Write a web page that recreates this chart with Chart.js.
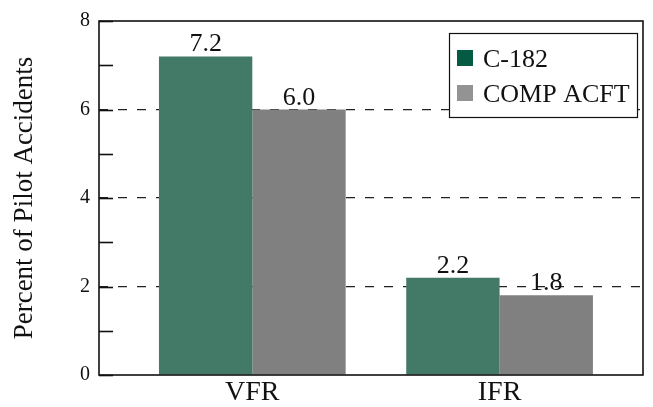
<!DOCTYPE html>
<html lang="en">
<head>
  <meta charset="UTF-8" />
  <title>Percent of Pilot Accidents</title>
  <script src="https://cdn.jsdelivr.net/npm/chart.js"></script>
  <style>
    body { margin: 0; background: #fff; }
    .wrap { width: 653px; height: 407px; position: relative; }
  </style>
</head>
<body>
  <div class="wrap"><canvas id="chart"></canvas></div>
  <script>
    // Data
    const categories = ['VFR', 'IFR'];
    const seriesNames = ['C-182', 'COMP ACFT'];
    const c182Values = [7.2, 2.2];
    const compValues = [6.0, 1.8];
    const yLabelTicks = [0, 2, 4, 6, 8];
    const gridTicks = [2, 4, 6];

    const barColors = ['#427a67', '#808080'];
    const legendColors = ['#045a43', '#939393'];
    const FONT = '"Liberation Serif", "Times New Roman", serif';

    // frame, inner tick marks, value labels and boxed legend
    const decorations = {
      id: 'decorations',
      afterDatasetsDraw(chart) {
        const { ctx, chartArea: a } = chart;
        const y = chart.scales.y;
        ctx.save();
        ctx.strokeStyle = '#111';
        ctx.lineWidth = 1.6;
        ctx.strokeRect(a.left, a.top, a.right - a.left, a.bottom - a.top);
        for (let v = y.min; v <= y.max; v++) {
          const py = Math.round(y.getPixelForValue(v)) + 0.5;
          ctx.beginPath();
          ctx.moveTo(a.left, py);
          ctx.lineTo(a.left + 14, py);
          ctx.stroke();
        }

        // value labels above bars
        ctx.fillStyle = '#111';
        ctx.font = '26px ' + FONT;
        ctx.textAlign = 'center';
        ctx.textBaseline = 'alphabetic';
        chart.data.datasets.forEach((ds, i) => {
          chart.getDatasetMeta(i).data.forEach((bar, j) => {
            ctx.fillText(ds.data[j].toFixed(1), bar.x, bar.y - 5);
          });
        });

        // legend box
        const lx = 449, ly = 33, lw = 188, lh = 84;
        ctx.fillStyle = '#fff';
        ctx.fillRect(lx, ly, lw, lh);
        ctx.lineWidth = 1.2;
        ctx.strokeRect(lx + 0.5, ly + 0.5, lw, lh);
        ctx.textAlign = 'left';
        seriesNames.forEach((name, i) => {
          const cy = ly + 25 + i * 35;
          ctx.fillStyle = legendColors[i];
          ctx.fillRect(lx + 8, cy - 8, 16, 16);
          ctx.fillStyle = '#111';
          ctx.fillText(name, lx + 34, cy + 9);
        });
        ctx.restore();
      }
    };

    new Chart(document.getElementById('chart').getContext('2d'), {
      type: 'bar',
      data: {
        labels: categories,
        datasets: [
          { label: seriesNames[0], data: c182Values, backgroundColor: barColors[0] },
          { label: seriesNames[1], data: compValues, backgroundColor: barColors[1] }
        ]
      },
      options: {
        responsive: true,
        maintainAspectRatio: false,
        animation: false,
        events: [],
        categoryPercentage: 0.755,
        barPercentage: 1.0,
        layout: { padding: { top: 17, right: 10, left: 0, bottom: 0 } },
        scales: {
          x: {
            afterBuildTicks: scale => {
              // groups sit a little right of the category centres
              scale._startValue = -0.62;
              scale._valueRange = 2.2;
            },
            afterFit: scale => { scale.height = 32; },
            grid: { display: false, drawTicks: false },
            border: { display: false },
            ticks: { color: '#111', font: { family: FONT, size: 28 }, padding: 1 }
          },
          y: {
            min: 0,
            max: 8,
            afterFit: scale => { scale.width = 99; },
            grid: {
              drawTicks: false,
              lineWidth: 1.2,
              color: c => gridTicks.includes(c.tick.value) ? '#222' : 'rgba(0,0,0,0)'
            },
            border: { display: false, dash: [9, 10] },
            ticks: {
              stepSize: 1,
              padding: 9,
              color: '#111',
              font: { family: FONT, size: 20 },
              callback: v => yLabelTicks.includes(v) ? String(v) : ''
            },
            title: {
              display: true,
              text: 'Percent of Pilot Accidents',
              color: '#111',
              font: { family: FONT, size: 27 },
              padding: { top: 9, bottom: 0 }
            }
          }
        },
        plugins: {
          legend: { display: false },
          tooltip: { enabled: false }
        }
      },
      plugins: [decorations]
    });
  </script>
</body>
</html>
